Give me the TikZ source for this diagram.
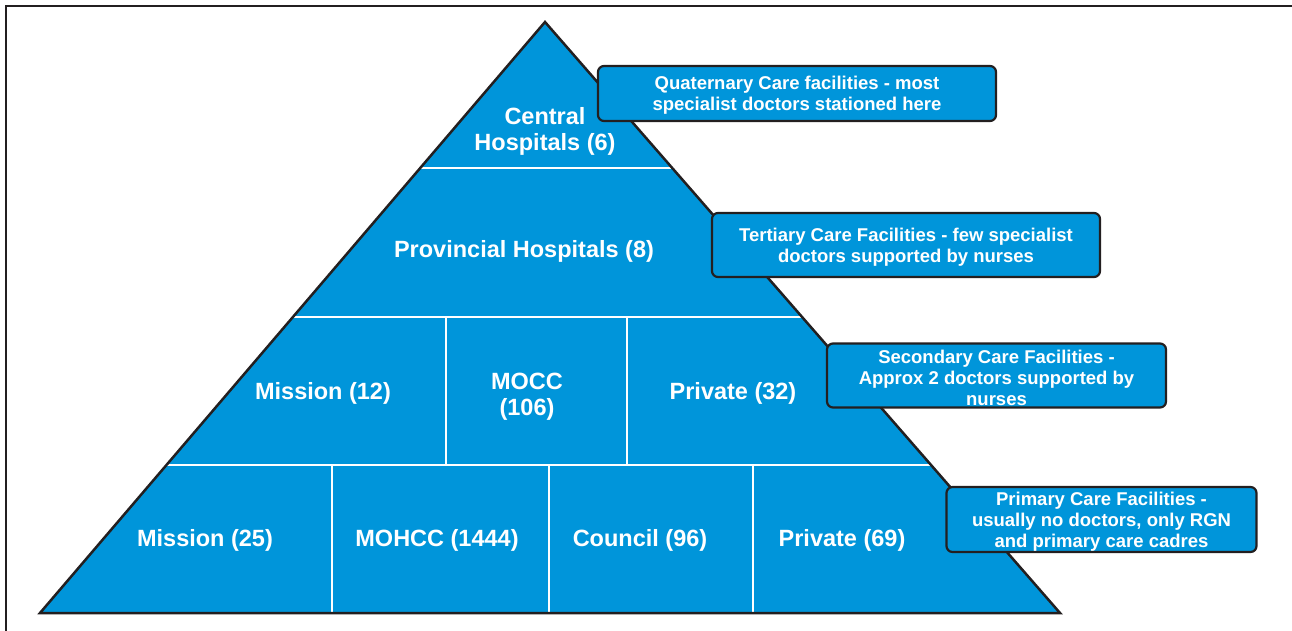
\documentclass[tikz,border=0pt]{standalone}
\usepackage{fontspec}
\setmainfont{Liberation Sans}
\definecolor{pyblue}{RGB}{0,149,218}
\definecolor{dk}{RGB}{35,31,32}
\begin{document}
\begin{tikzpicture}[x=1pt,y=-1pt,
  lab/.style={text=white,font=\bfseries\fontsize{23.5}{26}\selectfont,align=center},
  note/.style={draw=dk,line width=2.2pt,rounded corners=6pt,fill=pyblue,inner sep=0pt},
  notetext/.style={text=white,font=\bfseries\fontsize{18.5}{21}\selectfont,align=center,inner sep=0pt}]
\useasboundingbox (0,0) rectangle (1292,631);
\draw[dk,line width=2pt] (6,631) -- (6,6) -- (1292,6);
\coordinate (apex) at (545,22);
\coordinate (bl) at (40,613);
\coordinate (br) at (1060,613);
\fill[pyblue] (apex)--(bl)--(br)--cycle;
\begin{scope}
\clip (apex)--(bl)--(br)--cycle;
\draw[white,line width=2.2pt]
  (0,168)--(1292,168) (0,317)--(1292,317) (0,465)--(1292,465)
  (446,317)--(446,465) (627,317)--(627,465)
  (332,465)--(332,613) (549,465)--(549,613) (753,465)--(753,613);
\end{scope}
\draw[dk,line width=2.5pt,line join=miter] (apex)--(bl)--(br)--cycle;
% labels
\node[lab] (central) at (545,131) {Central\\Hospitals (6)};
\node[lab] (prov) at (524,251) {Provincial Hospitals (8)};
\node[lab] (mis12) at (323,393) {Mission (12)};
\node[lab] (mocc) at (527,397) {MOCC\\(106)};
\node[lab] (pri32) at (733,393) {Private (32)};
\node[lab] (mis25) at (205,540) {Mission (25)};
\node[lab] (mohcc) at (437,540) {MOHCC (1444)};
\node[lab] (coun) at (640,540) {Council (96)};
\node[lab] (pri69) at (842,540) {Private (69)};
% notes
\node[note,minimum width=398pt,minimum height=55pt] (quat) at (797,93.5) {};
\node[notetext] (quattxt) at ([yshift=-2pt]quat.center)
  {Quaternary Care facilities - most\\specialist doctors stationed here};
\node[note,minimum width=388pt,minimum height=64pt] (tert) at (906,245) {};
\node[notetext] (terttxt) at ([yshift=-2pt]tert.center)
  {Tertiary Care Facilities - few specialist\\doctors supported by nurses};
\node[note,minimum width=339pt,minimum height=64pt] (sec) at (996.5,375.5) {};
\node[notetext] (sectxt) at ([yshift=-2pt]sec.center)
  {Secondary Care Facilities -\\Approx 2 doctors supported by\\nurses};
\node[note,minimum width=310pt,minimum height=65pt] (prim) at (1101.5,519.5) {};
\node[notetext] (primtxt) at ([yshift=-2pt]prim.center)
  {Primary Care Facilities -\\usually no doctors, only RGN\\and primary care cadres};
\end{tikzpicture}
\end{document}
